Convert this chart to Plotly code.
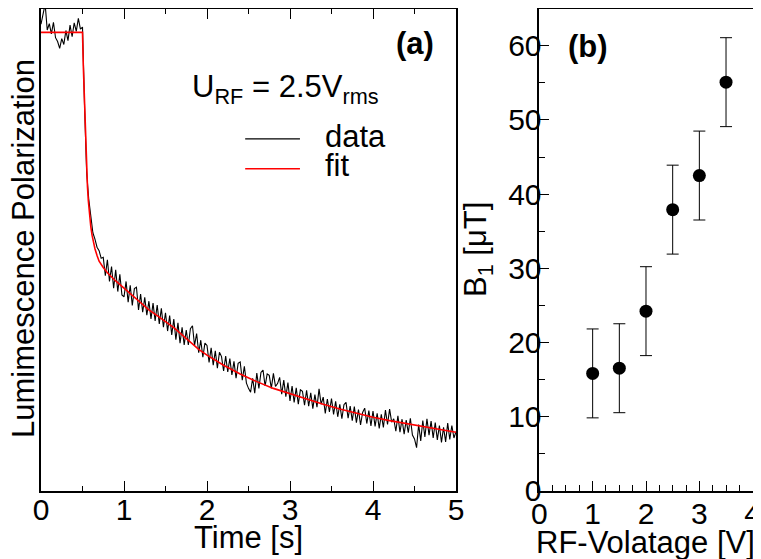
import plotly.graph_objects as go

# ---------------- data: panel (a) ----------------
time_s = [round(i * 0.025, 3) for i in range(201)]
polarization = [
    96.8, 98.6, 101.0, 95.6, 96.9, 94.8, 97.2, 94.0, 93.2, 91.8,
    93.8, 92.6, 95.5, 93.4, 96.6, 94.2, 97.1, 95.3, 98.0, 95.8,
    96.2, 79.5, 66.0, 60.5, 56.5, 53.5, 52.2, 50.5, 49.8, 48.2,
    48.4, 44.6, 47.9, 43.4, 46.5, 42.0, 45.8, 41.3, 44.9, 40.6,
    40.2, 43.4, 39.1, 42.6, 38.4, 41.9, 42.2, 37.5, 40.8, 37.0,
    40.1, 36.4, 39.3, 35.6, 38.9, 35.2, 38.5, 34.6, 37.8, 33.9,
    36.9, 33.1, 36.3, 32.3, 35.6, 31.3, 34.8, 30.6, 33.9, 30.2,
    33.3, 30.2, 33.6, 34.2, 30.1, 32.6, 28.6, 31.2, 27.7, 30.6,
    30.1, 26.6, 29.6, 26.0, 29.0, 25.4, 28.7, 27.8, 24.8, 27.9,
    24.6, 27.4, 24.0, 26.8, 23.3, 26.4, 26.7, 22.9, 25.8, 22.3,
    21.2, 20.4, 23.3, 20.2, 24.4, 21.2, 24.5, 25.0, 21.7, 24.2,
    23.9, 21.2, 24.3, 21.6, 22.2, 23.5, 20.0, 22.9, 19.5, 22.4,
    18.6, 21.7, 18.3, 21.3, 17.9, 20.9, 20.6, 17.7, 20.8, 17.5,
    20.3, 17.0, 19.9, 17.3, 21.1, 17.9, 19.4, 16.0, 19.0, 16.3,
    19.1, 15.8, 18.5, 15.3, 17.9, 14.9, 17.8, 18.3, 15.0, 17.5,
    14.5, 17.4, 14.1, 16.8, 13.6, 16.2, 17.1, 13.9, 16.6, 13.4,
    16.5, 13.3, 16.0, 12.9, 15.8, 13.1, 16.7, 13.7, 16.9, 14.2,
    14.9, 12.3, 15.5, 12.1, 14.8, 11.7, 14.6, 12.0, 15.0, 11.5,
    10.7, 8.9, 13.7, 10.3, 14.5, 11.1, 14.9, 11.5, 14.4, 10.9,
    14.1, 10.5, 13.5, 10.0, 13.1, 10.1, 14.0, 10.6, 13.5, 10.9,
    12.2,
]
fit_t = [0, 0.5, 0.51, 0.52, 0.53, 0.54, 0.55, 0.56, 0.57, 0.585, 0.6, 0.615,
         0.63, 0.65, 0.675, 0.7, 0.75, 0.8, 0.9, 1.0, 1.1, 1.2, 1.3, 1.4, 1.5,
         1.6, 1.7, 1.8, 1.9, 2.0, 2.2, 2.4, 2.6, 2.8, 3.0, 3.2, 3.4, 3.6, 3.8,
         4.0, 4.2, 4.4, 4.6, 4.8, 5.0]
fit_y = [95.1, 95.1, 88.0, 82.0, 76.0, 71.0, 66.5, 63.0, 60.2, 57.0, 54.8, 53.0,
         51.7, 50.2, 48.8, 47.6, 46.3, 45.2, 43.5, 42.0, 40.3, 38.8, 37.5, 36.3, 35.0,
         33.8, 32.3, 30.8, 29.3, 28.1, 26.0, 24.2, 22.6, 21.2, 20.1, 18.9, 17.9, 16.9, 16.0,
         15.2, 14.5, 13.9, 13.3, 12.6, 12.1]

# ---------------- data: panel (b) ----------------
voltage = [1.0, 1.5, 2.0, 2.5, 3.0, 3.5]
b1_field = [15.8, 16.5, 24.2, 37.9, 42.5, 55.1]
b1_error = [6.0, 6.0, 6.0, 6.0, 6.0, 6.0]

FONT = "Liberation Sans, Arial, Helvetica, sans-serif"
FS = 31
TFS = 30

# page body has an 8px margin: size the figure so it fits the window
OFF = 8
W, H = 761 - OFF, 559 - OFF


def px_x(x):
    return (x - OFF) / W


def px_y(y):
    return 1 - (y - OFF) / H


fig = go.Figure()
fig.add_trace(go.Scatter(x=time_s, y=polarization, mode="lines",
                         line=dict(color="black", width=1.1), name="data",
                         xaxis="x", yaxis="y", showlegend=False))
fig.add_trace(go.Scatter(x=fit_t, y=fit_y, mode="lines",
                         line=dict(color="#ff0000", width=1.6), name="fit",
                         xaxis="x", yaxis="y", showlegend=False))
fig.add_trace(go.Scatter(x=voltage, y=b1_field, mode="markers",
                         marker=dict(color="black", size=13),
                         error_y=dict(type="data", array=b1_error, color="black",
                                      thickness=1, width=6),
                         xaxis="x2", yaxis="y2", showlegend=False))

ydom = [px_y(490.5), px_y(8.8)]
common = dict(showline=True, linecolor="black", linewidth=1.5, mirror=True,
              showgrid=False, zeroline=False, ticks="inside", tickcolor="black",
              automargin=False, ticklabeloverflow="allow",
              tickwidth=1, tickfont=dict(family=FONT, size=TFS, color="black"))

fig.update_layout(
    width=W, height=H,
    margin=dict(l=0, r=0, t=0, b=0),
    paper_bgcolor="white", plot_bgcolor="white",
    font=dict(family=FONT, size=FS, color="black"),
    xaxis=dict(domain=[px_x(41), px_x(456)], range=[0, 5], dtick=1, ticklen=10,
               minor=dict(dtick=0.5, ticklen=5, ticks="inside", tickcolor="black"),
               ticklabelstandoff=-8,
               anchor="y", **{**common, "mirror": "ticks"}),
    yaxis=dict(domain=ydom, range=[0, 100], showticklabels=False,
               anchor="x", **{**common, "ticks": ""}),
    xaxis2=dict(domain=[px_x(539.3), px_x(752.7)], range=[0, 4], dtick=1, ticklen=10,
                minor=dict(dtick=0.25, ticklen=6, ticks="inside", tickcolor="black"),
                ticklabelstandoff=-4,
                anchor="y2", **common),
    yaxis2=dict(domain=ydom, range=[0, 65], dtick=10, ticklen=10,
                minor=dict(dtick=5, ticklen=6, ticks="inside", tickcolor="black"),
                ticklabelstandoff=-10,
                anchor="x2", **common),
)

txt = dict(family=FONT, size=FS, color="black")
# axis titles
fig.add_annotation(x=px_x(248), y=px_y(537), xref="paper", yref="paper",
                   xanchor="center", yanchor="middle",
                   text="Time [s]", showarrow=False, font=txt)
fig.add_annotation(x=px_x(645), y=px_y(542.5), xref="paper", yref="paper",
                   xanchor="center", yanchor="middle",
                   text="RF-Volatage [V]", showarrow=False, font=txt)
fig.add_annotation(x=px_x(24), y=px_y(249), xref="paper", yref="paper",
                   xanchor="center", yanchor="middle",
                   text="Lumimescence Polarization", textangle=-90, showarrow=False, font=txt)
fig.add_annotation(x=px_x(478), y=px_y(250), xref="paper", yref="paper",
                   xanchor="center", yanchor="middle",
                   text="B<sub>1</sub> [μT]", textangle=-90, showarrow=False, font=txt)

# panel labels and legend
fig.add_annotation(x=4.5, y=92.7, xref="x", yref="y", text="<b>(a)</b>", showarrow=False,
                   xanchor="center", yanchor="middle", font=txt)
fig.add_annotation(x=0.91, y=59.9, xref="x2", yref="y2", text="<b>(b)</b>", showarrow=False,
                   xanchor="center", yanchor="middle", font=txt)
fig.add_annotation(x=1.80, y=83.3, xref="x", yref="y", xanchor="left", yanchor="middle",
                   text="U<sub>RF</sub> = 2.5V<sub>rms</sub>", showarrow=False, font=txt)
fig.add_annotation(x=3.40, y=73.4, xref="x", yref="y", xanchor="left", yanchor="middle",
                   text="data", showarrow=False, font=txt)
fig.add_annotation(x=3.40, y=67.4, xref="x", yref="y", xanchor="left", yanchor="middle",
                   text="fit", showarrow=False, font=txt)
fig.add_shape(type="line", xref="x", yref="y", x0=2.46, x1=3.12, y0=73.0, y1=73.0,
              line=dict(color="black", width=1.2))
fig.add_shape(type="line", xref="x", yref="y", x0=2.46, x1=3.12, y0=66.8, y1=66.8,
              line=dict(color="#ff0000", width=1.6))

fig.write_html("out.html")
